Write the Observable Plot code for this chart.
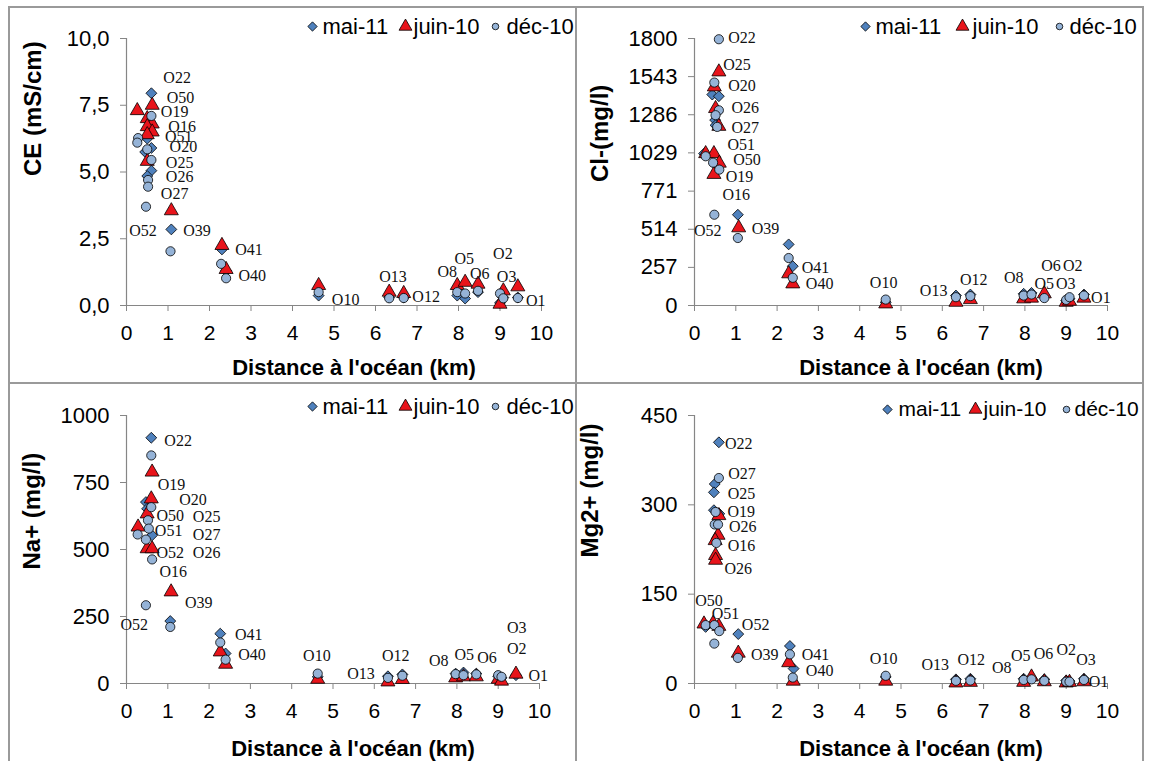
<!DOCTYPE html>
<html><head><meta charset="utf-8">
<script src="https://cdn.jsdelivr.net/npm/d3@7"></script>
<script src="https://cdn.jsdelivr.net/npm/@observablehq/plot@0.6"></script>
<style>
html,body{margin:0;padding:0;background:#fff}
body{width:1151px;height:761px;overflow:hidden;position:relative;font-family:Arial,"Liberation Sans",sans-serif}
.panel{position:absolute}
.line{position:absolute;background:#9a9a9a}
</style></head><body>
<div class="line" style="left:8px;top:6px;width:1136px;height:2px"></div>
<div class="line" style="left:8px;top:6px;width:2px;height:760px"></div>
<div class="line" style="left:1142px;top:6px;width:2px;height:760px"></div>
<div class="line" style="left:575px;top:6px;width:2px;height:760px"></div>
<div class="line" style="left:8px;top:382px;width:1136px;height:2px"></div>
<div id="p1" class="panel" style="left:8px;top:6px"></div>
<div id="p2" class="panel" style="left:576px;top:6px"></div>
<div id="p3" class="panel" style="left:8px;top:383px"></div>
<div id="p4" class="panel" style="left:576px;top:383px"></div>
<script>
// ---- categories / ticks ----
const seriesNames = ["mai-11", "juin-10", "déc-10"];
const xTicks = [0, 1, 2, 3, 4, 5, 6, 7, 8, 9, 10];
const xTitle = "Distance à l'océan (km)";
const ceTicks = [0, 2.5, 5, 7.5, 10];
const clTicks = [0, 257, 514, 771, 1029, 1286, 1543, 1800];
const naTicks = [0, 250, 500, 750, 1000];
const mgTicks = [0, 150, 300, 450];

// ---- CE (mS/cm): [distance km, value] ----
const ceMai = [[0.6,7.95],[0.5,6.25],[0.6,5.9],[0.6,5.05],[0.5,4.85],[0.45,5.75],[1.08,2.85],[2.3,2.1],[2.4,1.3],[4.63,0.37],[6.33,0.3],[6.68,0.3],[7.97,0.37],[8.16,0.26],[8.47,0.5],[9.0,0.1],[9.08,0.3],[9.43,0.3]];
const ceJuin = [[0.26,7.3],[0.5,7.0],[0.62,7.5],[0.62,6.8],[0.5,6.7],[0.62,6.5],[0.5,6.4],[0.5,5.4],[1.08,3.55],[2.3,2.25],[2.4,1.35],[4.63,0.75],[6.33,0.5],[6.68,0.45],[7.97,0.75],[8.16,0.87],[8.47,0.8],[9.08,0.55],[9.0,0.05],[9.43,0.7]];
const ceDec = [[0.28,6.27],[0.26,6.1],[0.6,7.1],[0.5,5.85],[0.6,5.45],[0.52,4.7],[0.52,4.45],[0.47,3.7],[1.06,2.03],[2.28,1.56],[2.4,1.02],[4.63,0.5],[6.33,0.27],[6.68,0.28],[7.97,0.5],[8.16,0.45],[8.47,0.55],[9.0,0.45],[9.08,0.27],[9.43,0.28]];
const ceLabels = [["O22",1.22,8.53],["O50",1.30,7.78],["O19",1.16,7.24],["O16",1.34,6.7],["O51",1.26,6.3],["O20",1.37,5.93],["O25",1.28,5.34],["O26",1.28,4.8],["O27",1.16,4.18],["O52",0.4,2.81],["O39",1.7,2.81],["O41",2.95,2.09],["O40",3.03,1.12],["O10",5.28,0.21],["O13",6.42,1.06],["O12",7.22,0.31],["O8",7.73,1.25],["O5",8.14,1.75],["O6",8.51,1.19],["O2",9.07,1.94],["O3",9.16,1.06],["O1",9.86,0.19]];

// ---- Cl- (mg/l) ----
const clMai = [[0.43,1422],[0.59,1411],[0.5,1250],[0.51,1215],[0.23,1024],[1.05,612],[2.28,412],[2.38,265],[4.63,22],[6.33,67],[6.68,74],[7.97,79],[8.16,85],[8.47,67],[9.0,34],[9.08,45],[9.43,74]];
const clJuin = [[0.59,1575],[0.48,1474],[0.51,1328],[0.59,1208],[0.27,1024],[0.47,1024],[0.6,960],[0.47,884],[1.07,524],[2.28,214],[2.38,146],[4.63,11],[6.33,22],[6.68,40],[7.97,45],[8.16,50],[8.47,79],[9.0,22],[9.08,29],[9.43,50]];
const clDec = [[0.59,1795],[0.48,1503],[0.59,1316],[0.51,1283],[0.55,1204],[0.27,1006],[0.45,963],[0.6,916],[0.48,612],[1.05,455],[2.28,320],[2.38,187],[4.63,40],[6.33,56],[6.68,63],[7.97,67],[8.16,74],[8.47,50],[9.0,38],[9.08,56],[9.43,67]];
const clLabels = [["O22",1.15,1807],["O25",1.03,1620],["O20",1.15,1478],["O26",1.23,1332],["O27",1.23,1197],["O51",1.13,1085],["O50",1.27,983],["O19",1.09,866],["O16",1.01,743],["O52",0.32,502],["O39",1.72,518],["O41",2.93,252],["O40",3.03,146],["O10",4.58,153],["O13",5.79,101],["O12",6.76,173],["O8",7.73,187],["O5",8.47,146],["O3",8.99,146],["O6",8.63,270],["O2",9.16,270],["O1",9.84,50]];

// ---- Na+ (mg/l) ----
const naMai = [[0.6,917],[0.47,677],[0.5,652],[0.62,553],[0.27,575],[1.06,233],[2.27,186],[2.4,112],[4.63,25],[6.33,27],[6.68,34],[7.97,37],[8.16,41],[8.47,37],[9.0,27],[9.08,21],[9.43,31]];
const naJuin = [[0.62,789],[0.6,689],[0.5,633],[0.28,584],[0.5,503],[0.62,503],[1.08,342],[2.27,118],[2.4,72],[4.63,16],[6.33,6],[6.68,15],[7.97,21],[8.16,25],[8.47,25],[9.0,16],[9.08,9],[9.43,35]];
const naDec = [[0.6,851],[0.6,658],[0.52,609],[0.54,578],[0.27,556],[0.47,537],[0.62,463],[0.47,292],[1.06,211],[2.27,153],[2.4,89],[4.63,37],[6.33,21],[6.68,29],[7.97,35],[8.16,31],[8.47,34],[9.0,31],[9.08,25]];
const naLabels = [["O22",1.25,907],["O19",1.09,743],["O20",1.61,686],["O50",1.06,627],["O25",1.94,623],["O51",1.02,569],["O27",1.94,553],["O52",1.06,488],["O26",1.94,487],["O16",1.13,416],["O39",1.75,301],["O52",0.19,217],["O41",2.96,180],["O40",3.04,106],["O10",4.61,102],["O13",5.68,35],["O12",6.52,102],["O8",7.56,84],["O5",8.18,106],["O6",8.73,97],["O3",9.45,209],["O2",9.45,130],["O1",9.97,27]];

// ---- Mg2+ (mg/l) ----
const mgMai = [[0.59,405],[0.49,335],[0.47,321],[0.47,291],[0.6,285],[1.06,83],[2.31,63],[2.4,25],[0.27,95],[4.63,11],[6.33,7],[6.68,8],[7.97,8],[8.16,9],[8.47,7],[9.0,5],[9.08,4],[9.43,8]];
const mgJuin = [[0.59,282],[0.57,249],[0.5,240],[0.51,215],[0.51,207],[0.23,100],[0.45,101],[0.59,96],[1.06,51],[2.28,35],[2.39,4],[4.63,4],[6.33,1],[6.68,2],[7.97,2],[8.16,11],[8.47,3],[9.0,1],[9.08,2],[9.43,3]];
const mgDec = [[0.59,345],[0.51,288],[0.49,267],[0.57,267],[0.53,236],[0.27,98],[0.48,98],[0.6,88],[0.48,67],[1.05,43],[2.31,49],[2.38,10],[4.63,13],[6.33,4.5],[6.68,5],[7.97,6],[8.16,7],[8.47,4.5],[9.0,3],[9.08,3],[9.43,6]];
const mgLabels = [["O22",1.07,402],["O27",1.15,352],["O25",1.14,319],["O19",1.13,288],["O26",1.17,263],["O16",1.14,231],["O26",1.06,193],["O50",0.35,139],["O51",0.75,117],["O52",1.48,99],["O39",1.7,48],["O41",2.93,48],["O40",3.03,21],["O10",4.58,42],["O13",5.83,32],["O12",6.7,40],["O8",7.44,27],["O5",7.9,46],["O6",8.45,49],["O2",9.0,57],["O3",9.48,39],["O1",9.78,3]];

// ---- styling ----
const symStyle = [
  {symbol: "diamond2", fill: "#4F81BD", r: 4.9, lr: 4.2},
  {symbol: "triangle", fill: "#E8141B", r: 5.2, lr: 4.8},
  {symbol: "circle", fill: "#95B3D7", r: 4.6, lr: 3.3}
];
const AX = "#868686";

function panel(cfg) {
  const series = [cfg.mai, cfg.juin, cfg.dec];
  const marks = [
    Plot.ruleY([0], {stroke: AX, strokeWidth: 1.2}),
    Plot.ruleX([0], {stroke: AX, strokeWidth: 1.2}),
    Plot.axisX({ticks: xTicks, tickSize: 6, tickPadding: 14, stroke: AX, fontSize: 21, fill: "#000", tickFormat: d => String(d)}),
    Plot.axisY({ticks: cfg.ticks, tickSize: 6, tickPadding: 11, stroke: AX, fontSize: 22, fill: "#000", tickFormat: cfg.fmt}),
    Plot.text([xTitle], {frameAnchor: "bottom", lineAnchor: "middle", dx: 20, dy: cfg.xTitleDy, fontSize: 22, fontWeight: "bold", fill: "#000"}),
    Plot.text([cfg.yTitle], {frameAnchor: "left", lineAnchor: "middle", rotate: -90, dx: cfg.yTitleDx, dy: cfg.yTitleDy, fontSize: 24, fontWeight: "bold", fill: "#000"})
  ];
  series.forEach((data, i) => {
    const s = symStyle[i];
    marks.push(Plot.dot(data, {x: d => d[0], y: d => d[1], symbol: () => s.symbol, r: s.r, fill: s.fill, stroke: "#000", strokeWidth: 0.8}));
  });
  marks.push(Plot.text(cfg.labels, {x: d => d[1], y: d => d[2], text: d => d[0], fontFamily: "'Liberation Serif','Times New Roman',serif", fontSize: 16, fill: "#111"}));
  seriesNames.forEach((name, i) => {
    const s = symStyle[i];
    marks.push(Plot.dot([name], {frameAnchor: "top-right", dx: cfg.legendX[2*i], dy: cfg.legendDy, symbol: () => s.symbol, r: s.lr, fill: s.fill, stroke: "#000", strokeWidth: 0.8}));
    marks.push(Plot.text([name], {frameAnchor: "top-right", lineAnchor: "middle", dx: cfg.legendX[2*i+1], dy: cfg.legendDy, textAnchor: "start", fontSize: cfg.legendSize, fill: "#000"}));
  });
  return Plot.plot({
    width: cfg.width, height: cfg.height,
    marginLeft: 118, marginRight: cfg.marginRight, marginTop: 32, marginBottom: 78,
    style: {fontFamily: "Arial, 'Liberation Sans', sans-serif", background: "transparent", overflow: "visible", color: "#000"},
    x: {domain: [0, 10], axis: null},
    y: {domain: [0, cfg.yMax], axis: null},
    symbol: {type: "identity"},
    marks
  });
}

const fmtComma = d => d.toFixed(1).replace(".", ",");
const fmtInt = d => String(d);

document.getElementById("p1").appendChild(panel({
  mai: ceMai, juin: ceJuin, dec: ceDec, labels: ceLabels, ticks: ceTicks, fmt: fmtComma, yMax: 10,
  yTitle: "CE (mS/cm)", yTitleDx: -93, yTitleDy: 4, xTitleDy: 62,
  legendX: [-229, -219, -136, -128, -46, -35], legendDy: -12, legendSize: 22,
  width: 568, height: 377, marginRight: 35
}));
document.getElementById("p2").appendChild(panel({
  mai: clMai, juin: clJuin, dec: clDec, labels: clLabels, ticks: clTicks, fmt: fmtInt, yMax: 1800,
  yTitle: "Cl-(mg/l)", yTitleDx: -94, yTitleDy: 10, xTitleDy: 62,
  legendX: [-242, -232, -145, -135, -48, -38], legendDy: -12, legendSize: 22,
  width: 567, height: 377, marginRight: 36
}));
document.getElementById("p3").appendChild(panel({
  mai: naMai, juin: naJuin, dec: naDec, labels: naLabels, ticks: naTicks, fmt: fmtInt, yMax: 1000,
  yTitle: "Na+ (mg/l)", yTitleDx: -94, yTitleDy: 20, xTitleDy: 65,
  legendX: [-227, -217, -134, -126, -44, -33], legendDy: -9, legendSize: 22,
  width: 568, height: 378, marginRight: 37
}));
document.getElementById("p4").appendChild(panel({
  mai: mgMai, juin: mgJuin, dec: mgDec, labels: mgLabels, ticks: mgTicks, fmt: fmtInt, yMax: 450,
  yTitle: "Mg2+ (mg/l)", yTitleDx: -104, yTitleDy: 8, xTitleDy: 65,
  legendX: [-220, -209, -132, -124, -41, -33], legendDy: -6, legendSize: 21,
  width: 567, height: 378, marginRight: 36
}));
</script>
</body></html>
